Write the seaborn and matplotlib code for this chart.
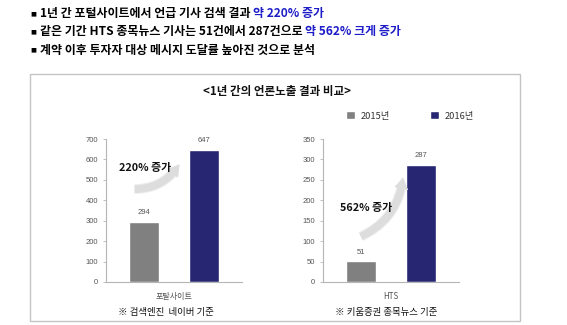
import matplotlib
matplotlib.use("Agg")
import matplotlib.pyplot as plt
import seaborn as sns
import pandas as pd
from matplotlib.patches import Rectangle, FancyArrowPatch

# ---- data ----
years = ["2015년", "2016년"]
left_category = ["포탈사이트"]
left_values = [294, 647]
right_category = ["HTS"]
right_values = [51, 287]
left_ticks = [0, 100, 200, 300, 400, 500, 600, 700]
right_ticks = [0, 50, 100, 150, 200, 250, 300, 350]

bullet_lines = [
    ("1년 간 포털사이트에서 언급 기사 검색 결과 ", "약 220% 증가"),
    ("같은 기간 HTS 종목뉴스 기사는 51건에서 287건으로 ", "약 562% 크게 증가"),
    ("계약 이후 투자자 대상 메시지 도달률 높아진 것으로 분석", ""),
]
chart_title = "<1년 간의 언론노출 결과 비교>"
left_note = "※ 검색엔진  네이버 기준"
right_note = "※ 키움증권 종목뉴스 기준"
left_growth = "220% 증가"
right_growth = "562% 증가"

sns.set_theme(style="white")
plt.rcParams["font.family"] = ["Noto Sans CJK KR", "DejaVu Sans"]

GREY = "#808080"
NAVY = "#262672"
BLUE = "#1c1cc8"
W, H = 567, 325

fig = plt.figure(figsize=(W / 100, H / 100), dpi=100)
fig.patch.set_facecolor("white")

# background axes in pixel coordinates
bg = fig.add_axes([0, 0, 1, 1])
bg.set_xlim(0, W)
bg.set_ylim(H, 0)
bg.axis("off")

# bullet lines
ys = [14, 32, 50]
for (black, blue), y in zip(bullet_lines, ys):
    bg.text(33, y, "■", fontsize=4.5, va="center", ha="center",
            family="DejaVu Sans", color="black")
    t = bg.text(40, y, black, fontsize=8.6, fontweight="bold",
                va="center", ha="left", color="black")
    if blue:
        bg.annotate(blue, xy=(1, 0.5), xycoords=t, fontsize=8.6,
                    fontweight="bold", va="center", ha="left", color=BLUE)

# outer box
bg.add_patch(Rectangle((30, 74), 490, 247, fill=False, ec="#c4c4c4", lw=1))
bg.text(277, 92, chart_title, fontsize=8.3, fontweight="bold",
        ha="center", va="center", color="#111111")
bg.text(166, 312, left_note, fontsize=6.8, ha="center", va="center", color="#111111")
bg.text(386, 312, right_note, fontsize=6.8, ha="center", va="center", color="#111111")


def make_chart(rect, cats, vals, ticks, growth, arrow_from, arrow_to, text_xy, show_legend):
    ax = fig.add_axes(rect)
    ax.set_facecolor("none")
    df = pd.DataFrame({"cat": cats * len(years), "year": years, "value": vals})
    sns.barplot(data=df, x="cat", y="value", hue="year", hue_order=years,
                palette=[GREY, NAVY], saturation=1, width=0.8, gap=0.5,
                ax=ax, legend=show_legend)
    ax.set_xlim(-0.453, 0.453)
    ax.set_ylim(ticks[0], ticks[-1])
    ax.set_yticks(ticks)
    ax.set_xlabel("")
    ax.set_ylabel("")
    for c in ax.containers:
        ax.bar_label(c, fontsize=5.5, color="#555555", padding=4,
                     family=["Liberation Sans", "DejaVu Sans"])
    for s in ["top", "right"]:
        ax.spines[s].set_visible(False)
    for s in ["left", "bottom"]:
        ax.spines[s].set_color("#b5b5b5")
        ax.spines[s].set_linewidth(0.8)
    ax.tick_params(axis="y", left=True, length=2.5, width=0.6, color="#b5b5b5",
                   labelsize=5.5, labelcolor="#555555", pad=3)
    ax.tick_params(axis="x", bottom=False, labelsize=5.8, labelcolor="#555555", pad=1.5)
    for lab in ax.get_yticklabels():
        lab.set_family(["Liberation Sans", "DejaVu Sans"])
    # growth arrow: layered to imitate the fading grey gradient
    for col, tw in [("#eeeeee", 7), ("#dddddd", 5.5)]:
        arr = FancyArrowPatch(arrow_from, arrow_to, transform=ax.transAxes,
                              connectionstyle="arc3,rad=0.3",
                              arrowstyle=f"simple,head_width=10,head_length=8,tail_width={tw}",
                              color=col, lw=0, zorder=1, clip_on=False)
        ax.add_patch(arr)
    ax.text(text_xy[0], text_xy[1], growth, transform=ax.transAxes,
            fontsize=7.8, fontweight="bold", ha="center", va="center",
            color="#111111", zorder=5)
    return ax


ax1 = make_chart([106 / W, 43 / H, 136 / W, 143 / H], left_category, left_values,
                 left_ticks, left_growth, (0.19, 0.65), (0.55, 0.84), (0.29, 0.80), True)
ax2 = make_chart([323 / W, 43 / H, 136 / W, 143 / H], right_category, right_values,
                 right_ticks, right_growth, (0.26, 0.31), (0.59, 0.75), (0.32, 0.52), False)

handles, labels = ax1.get_legend_handles_labels()
if ax1.get_legend() is not None:
    ax1.get_legend().remove()
fig.legend(handles, labels, loc="center", bbox_to_anchor=(410 / W, 1 - 116 / H),
           ncol=2, frameon=False, fontsize=6.7, handlelength=0.9, handleheight=0.9,
           handletextpad=0.6, columnspacing=4.4, labelcolor="#333333")

fig.savefig("out.png", dpi=100, facecolor="white")
